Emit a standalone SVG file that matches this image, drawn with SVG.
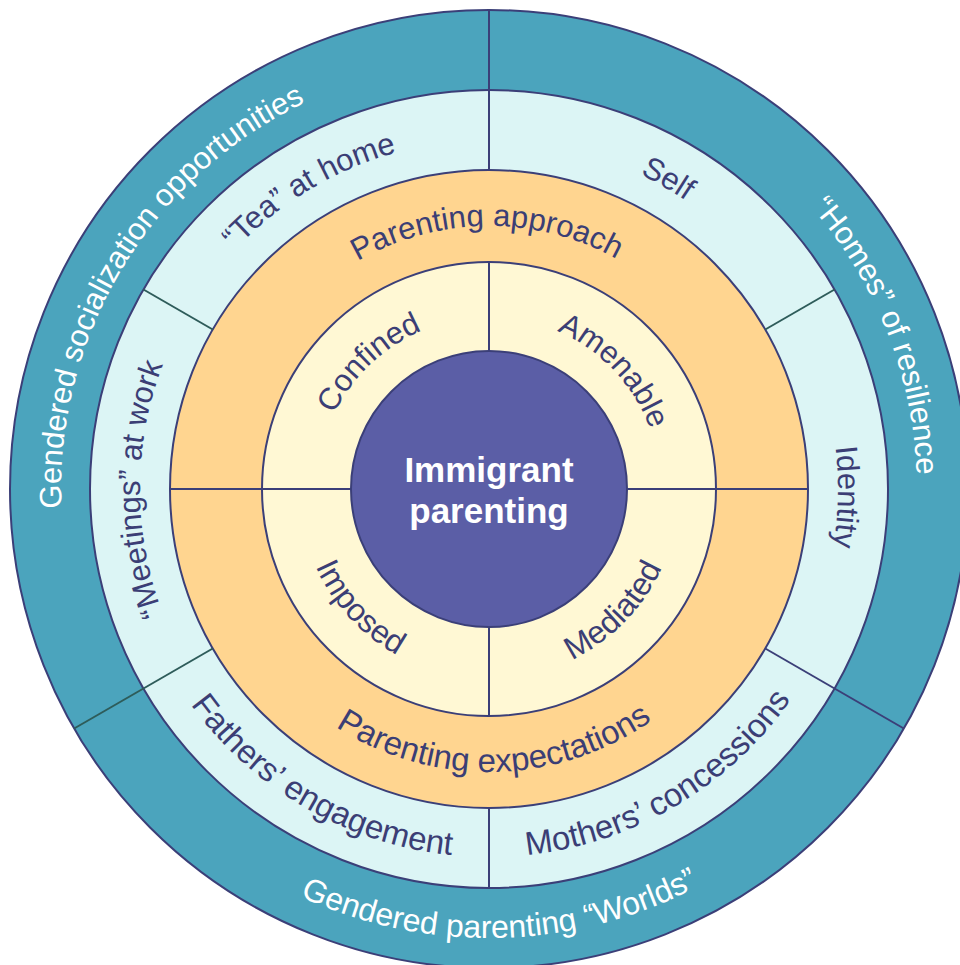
<svg xmlns="http://www.w3.org/2000/svg" width="960" height="965" viewBox="0 0 960 965">
  <style>
    .ring{stroke:#3b3f78;stroke-width:2}
    .outer{fill:#4ba4bd}
    .band{fill:#dcf5f5}
    .orange{fill:#ffd590}
    .yellow{fill:#fff8d4}
    .core{fill:#5b5ea6}
    .div{stroke:#3b3f78;stroke-width:2;fill:none}
    .div-g{stroke:#2e5c5a;stroke-width:2;fill:none}
    text{font-family:"Liberation Sans",Arial,Helvetica,sans-serif;font-size:31px}
    .lbl{fill:#3b3e75}
    .lbl-w{fill:#ffffff}
    .lg{font-size:33px}
    .md{font-size:32px}
    .title{fill:#ffffff;font-weight:bold;font-size:35px;text-anchor:middle}
  </style>
  <defs>
    <!-- clockwise arcs (letters upright, tops outward), centred at 12 o'clock -->
    <path id="cw428" d="M61,489 A428,428 0 0 1 917,489"/>
    <path id="cw349" d="M140,489 A349,349 0 0 1 838,489"/>
    <path id="cw263" d="M226,489 A263,263 0 0 1 752,489"/>
    <path id="cw172" d="M317,489 A172,172 0 0 1 661,489"/>
    <!-- counter-clockwise arcs (tops inward), centred at 6 o'clock -->
    <path id="ccw449" d="M40,489 A449,449 0 0 0 938,489"/>
    <path id="ccw368" d="M121,489 A368,368 0 0 0 857,489"/>
    <path id="ccw283" d="M206,489 A283,283 0 0 0 772,489"/>
    <path id="ccw190" d="M299,489 A190,190 0 0 0 679,489"/>
  </defs>

  <!-- concentric rings -->
  <g id="rings">
    <circle class="ring outer" cx="489" cy="489" r="479"/>
    <circle class="ring band" cx="489" cy="489" r="399"/>
    <circle class="ring orange" cx="489" cy="489" r="319"/>
    <circle class="ring yellow" cx="489" cy="489" r="227"/>
  </g>

  <!-- segment dividers -->
  <g id="dividers">
    <line class="div" x1="489" y1="10" x2="489" y2="170"/>
    <line class="div" x1="489" y1="808" x2="489" y2="888"/>
    <line class="div-g" x1="212.74" y1="329.5" x2="143.46" y2="289.5"/>
    <line class="div-g" x1="765.26" y1="329.5" x2="834.54" y2="289.5"/>
    <line class="div-g" x1="212.74" y1="648.5" x2="74.17" y2="728.5"/>
    <line class="div" x1="765.26" y1="648.5" x2="903.83" y2="728.5"/>
    <line class="div" x1="170" y1="489" x2="351" y2="489"/>
    <line class="div" x1="627" y1="489" x2="808" y2="489"/>
    <line class="div" x1="489" y1="262" x2="489" y2="351"/>
    <line class="div" x1="489" y1="627" x2="489" y2="716"/>
  </g>

  <!-- centre -->
  <g id="core">
    <circle class="ring core" cx="489" cy="489" r="138"/>
    <text class="title" x="489" y="482">Immigrant</text>
    <text class="title" x="489" y="523">parenting</text>
  </g>

  <!-- outer ring -->
  <g id="socialization">
    <text class="lbl-w" transform="rotate(-59 489 489)"><textPath href="#cw428" startOffset="50%" text-anchor="middle">Gendered socialization opportunities</textPath></text>
  </g>
  <g id="resilience">
    <text class="lbl-w" transform="rotate(68.5 489 489)"><textPath href="#cw428" startOffset="50%" text-anchor="middle">“Homes” of resilience</textPath></text>
  </g>
  <g id="worlds">
    <text class="lbl-w md" transform="rotate(-1.5 489 489)"><textPath href="#ccw449" startOffset="50%" text-anchor="middle">Gendered parenting “Worlds”</textPath></text>
  </g>

  <!-- second ring -->
  <g id="tea">
    <text class="lbl" transform="rotate(-31 489 489)"><textPath href="#cw349" startOffset="50%" text-anchor="middle">“Tea” at home</textPath></text>
  </g>
  <g id="self">
    <text class="lbl" transform="rotate(30 489 489)"><textPath href="#cw349" startOffset="50%" text-anchor="middle">Self</textPath></text>
  </g>
  <g id="identity">
    <text class="lbl" transform="rotate(91.3 489 489)"><textPath href="#cw349" startOffset="50%" text-anchor="middle">Identity</textPath></text>
  </g>
  <g id="meetings">
    <text class="lbl" transform="rotate(-90 489 489)"><textPath href="#cw349" startOffset="50%" text-anchor="middle">“Meetings” at work</textPath></text>
  </g>
  <g id="fathers">
    <text class="lbl lg" transform="rotate(30 489 489)"><textPath href="#ccw368" startOffset="50%" text-anchor="middle">Fathers’ engagement</textPath></text>
  </g>
  <g id="mothers">
    <text class="lbl lg" transform="rotate(-30.5 489 489)"><textPath href="#ccw368" startOffset="50%" text-anchor="middle">Mothers’ concessions</textPath></text>
  </g>

  <!-- third ring -->
  <g id="approach">
    <text class="lbl" transform="rotate(-0.5 489 489)"><textPath href="#cw263" startOffset="50%" text-anchor="middle">Parenting approach</textPath></text>
  </g>
  <g id="expectations">
    <text class="lbl lg" transform="rotate(-1.2 489 489)"><textPath href="#ccw283" startOffset="50%" text-anchor="middle">Parenting expectations</textPath></text>
  </g>

  <!-- inner ring -->
  <g id="confined">
    <text class="lbl" transform="rotate(-43.5 489 489)"><textPath href="#cw172" startOffset="50%" text-anchor="middle">Confined</textPath></text>
  </g>
  <g id="amenable">
    <text class="lbl" transform="rotate(46.5 489 489)"><textPath href="#cw172" startOffset="50%" text-anchor="middle">Amenable</textPath></text>
  </g>
  <g id="imposed">
    <text class="lbl md" transform="rotate(47.5 489 489)"><textPath href="#ccw190" startOffset="50%" text-anchor="middle">Imposed</textPath></text>
  </g>
  <g id="mediated">
    <text class="lbl md" transform="rotate(-45.7 489 489)"><textPath href="#ccw190" startOffset="50%" text-anchor="middle">Mediated</textPath></text>
  </g>
</svg>
